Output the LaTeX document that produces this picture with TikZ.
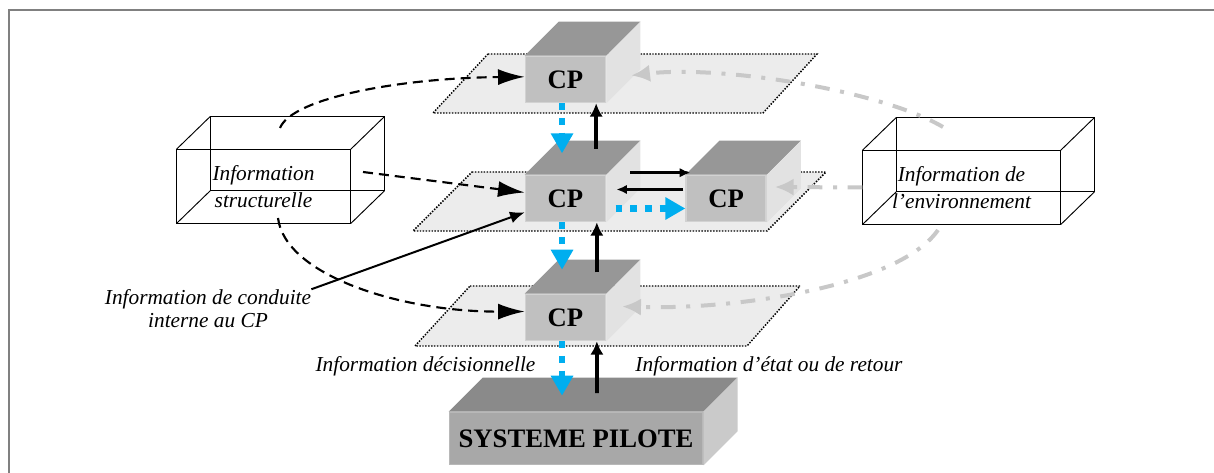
\documentclass[tikz,border=0pt]{standalone}
\usepackage{fontspec}
\setmainfont{Liberation Serif}
\usepackage{tikz}
\usetikzlibrary{arrows.meta}
\usetikzlibrary{positioning}
\definecolor{cpfront}{HTML}{C0C0C0}
\definecolor{cpedge}{HTML}{D2D2D2}
\definecolor{cptop}{HTML}{979797}
\definecolor{cpside}{HTML}{E2E2E2}
\definecolor{spfront}{HTML}{A8A8A8}
\definecolor{spedge}{HTML}{B8B8B8}
\definecolor{sptop}{HTML}{8A8A8A}
\definecolor{spside}{HTML}{CACACA}
\definecolor{planegray}{HTML}{ECECEC}
\definecolor{infoblue}{HTML}{00AEEF}
\definecolor{envgray}{HTML}{C8C8C8}
\tikzstyle{every node}+=[inner sep=0pt]
\tikzstyle{cp} = [rectangle, fill=cpfront, draw=cpedge, line width=1.2pt, font=\bfseries\fontsize{20}{24}\selectfont, minimum width=60pt, minimum height=34.5pt]
\tikzstyle{pilot} = [cp, fill=spfront, draw=spedge, minimum width=190pt, minimum height=39pt]
\tikzstyle{wirebox} = [rectangle, draw, line width=0.7pt, font=\itshape\fontsize{16}{20}\selectfont, align=center, minimum height=55pt]
\tikzstyle{caption} = [font=\itshape\fontsize{16}{17}\selectfont, align=center]
\tikzstyle{plane} = [fill=planegray, draw, line width=1.1pt, dash pattern=on 1.1pt off 1.1pt]
\tikzstyle{wire} = [draw, line width=0.7pt]
\tikzstyle{frameline} = [draw=gray, line width=1.5pt]
\tikzstyle{structline} = [draw, line width=1.6pt, dash pattern=on 7.5pt off 4.5pt, -{Latex[length=20pt,width=12pt]}]
\tikzstyle{line} = [draw, line width=1.5pt, -{Latex[length=11pt,width=9pt]}]
\tikzstyle{flowdown} = [draw=infoblue, line width=5pt, dash pattern=on 5pt off 6pt, -{Triangle[length=15pt,width=16pt]}]
\tikzstyle{flowup} = [draw, line width=2.8pt, -{Latex[length=10pt,width=10pt]}]
\tikzstyle{peerline} = [draw, line width=2.5pt, -{Latex[length=8pt,width=7pt]}]
\tikzstyle{envline} = [draw=envgray, line width=3pt, dash pattern=on 11pt off 8pt on 3pt off 8pt, -{Latex[length=14pt,width=13pt]}]
\newcommand{\boxfaces}[3]{% node, top colour, side colour
  \fill[#2] (#1.north west) -- ([shift={(34,-34)}]#1.north west) -- ([shift={(34,-34)}]#1.north east) -- (#1.north east) -- cycle;
  \fill[#3] (#1.north east) -- ([shift={(34,-34)}]#1.north east) -- ([shift={(34,-34)}]#1.south east) -- (#1.south east) -- cycle;
}
\newcommand{\wireback}[1]{% back of a see-through box
  \draw[wire] ([shift={(34,-33)}]#1.north west) rectangle ([shift={(34,-33)}]#1.south east);
  \foreach \corner in {north west, north east, south west, south east}
    \draw[wire] (#1.\corner) -- ([shift={(34,-33)}]#1.\corner);
}
\begin{document}
\begin{tikzpicture}[x=0.75pt, y=-0.75pt]
            \useasboundingbox (0,0) rectangle (1214,473);
            \draw[frameline] (9,473) -- (9,10) -- (1214,10);
            % Planes
            \path[plane] (488,54) -- (817,54) -- (763,113) -- (433,113) -- cycle;
            \path[plane] (472,172) -- (826,172) -- (767,231) -- (413,231) -- cycle;
            \path[plane] (470,286) -- (800,286) -- (747,346) -- (415,346) -- cycle;
            % Place nodes
            \node [cp] (cpT) at (565.5,79.5) {CP};
            \node [cp, below of=cpT, node distance=89.25pt] (cpM) {CP};
            \node [cp, right of=cpM, node distance=120.5pt] (cpR) {CP};
            \node [cp, below of=cpM, node distance=89.25pt] (cpB) {CP};
            \node [pilot, below of=cpB, node distance=90.75pt, xshift=7.9pt] (sp) {SYSTEME PILOTE};
            \boxfaces{cpT}{cptop}{cpside}
            \boxfaces{cpM}{cptop}{cpside}
            \boxfaces{cpR}{cptop}{cpside}
            \boxfaces{cpB}{cptop}{cpside}
            \boxfaces{sp}{sptop}{spside}
            \node [wirebox, minimum width=130pt] (infoS) at (263.5,186.5) {Information\\structurelle};
            \node [wirebox, minimum width=148pt] (infoE) at (961.5,187.5) {Information de\\l’environnement};
            \wireback{infoS}
            \wireback{infoE}
            \node [caption] (lblC) at (208,308.5) {Information de conduite\\interne au CP};
            \node [caption] (lblD) at (425.5,366) {Information décisionnelle};
            \node [caption] (lblR) at (769,366) {Information d’état ou de retour};
            \coordinate (sTop) at (280,128);
            \coordinate (sMid) at (363,172);
            \coordinate (sBot) at (278,218);
            \coordinate (eTop) at (943,127);
            \coordinate (eBot) at (938,230);
            % Draw edges
            \path [structline] (sTop) .. controls (292,98) and (400,78) .. ([yshift=2pt]cpT.west);
            \path [structline] (sMid) -- ([yshift=4.5pt]cpM.west);
            \path [structline] (sBot) .. controls (285,275) and (400,312) .. ([yshift=4.5pt]cpB.west);
            \path [line] (lblC.north east) -- ([yshift=7.5pt]cpM.south west);
            \path [flowdown] ([xshift=-2.6pt]cpT.south) -- ([xshift=-2.6pt,yshift=16pt]cpM.north);
            \path [flowdown] ([xshift=-2.6pt]cpM.south) -- ([xshift=-2.6pt,yshift=18pt]cpB.north);
            \path [flowdown] ([xshift=-2.6pt]cpB.south) -- ([xshift=-10.5pt,yshift=12pt]sp.north);
            \path [flowdown] ([xshift=7pt,yshift=-7.5pt]cpM.east) -- ([yshift=-7.5pt]cpR.west);
            \path [flowup] ([xshift=23pt,yshift=19.5pt]cpM.north) -- ([xshift=23pt]cpT.south);
            \path [flowup] ([xshift=23.5pt,yshift=16pt]cpB.north) -- ([xshift=23.5pt]cpM.south);
            \path [flowup] ([xshift=15.75pt,yshift=14pt]sp.north) -- ([xshift=23.5pt]cpB.south);
            \path [peerline] ([shift={(24,-2)}]cpM.north east) -- ([shift={(5,-2)}]cpR.north west);
            \path [peerline] ([shift={(-2,-9)}]cpR.west) -- ([shift={(10,-9)}]cpM.east);
            \path [envline] (eTop) .. controls (880,90) and (720,65) .. ([shift={(25,-4)}]cpT.east);
            \path [envline] (infoE.west) -- ([shift={(8,-11.5)}]cpR.east);
            \path [envline] (eBot) .. controls (900,285) and (740,310) .. ([shift={(16,-11)}]cpB.east);
          \end{tikzpicture}
\end{document}
